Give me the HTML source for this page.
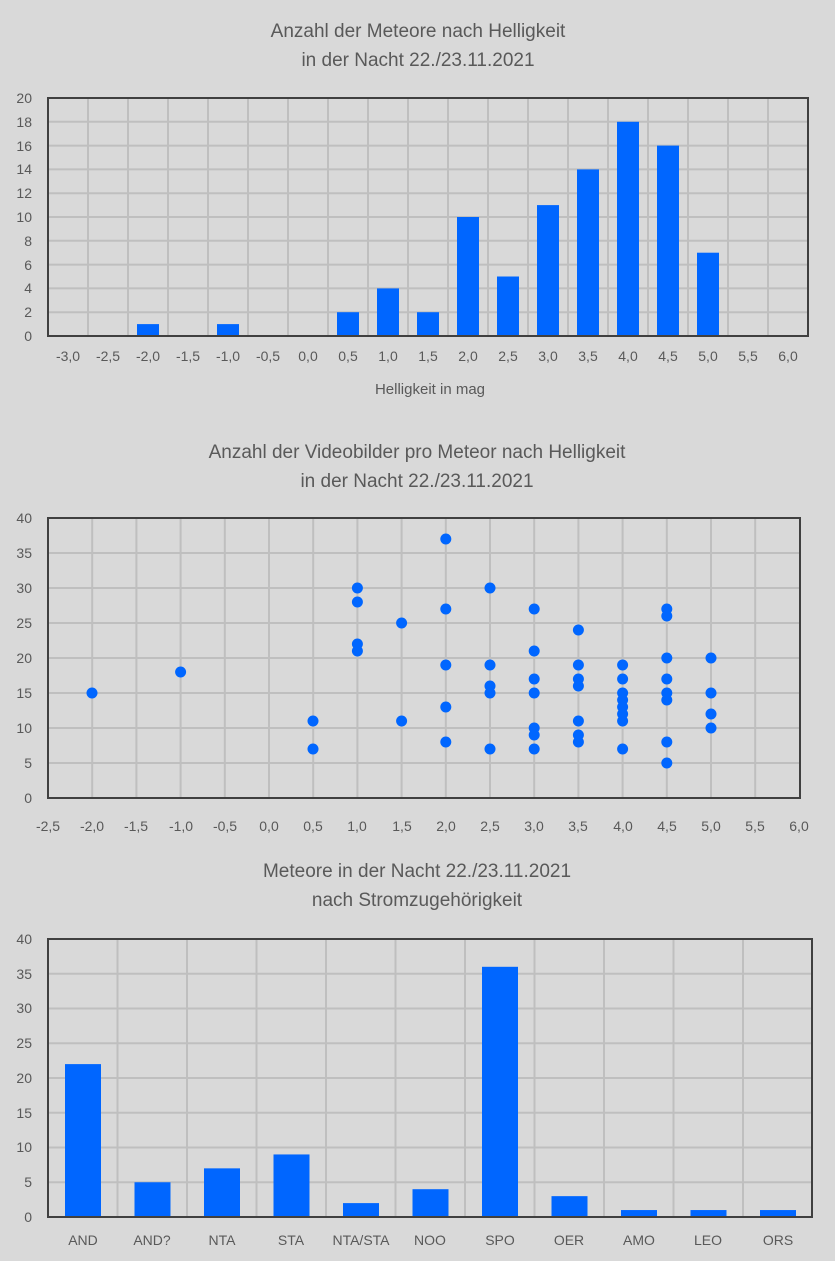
<!DOCTYPE html>
<html><head><meta charset="utf-8"><style>
html,body{margin:0;padding:0;background:#d9d9d9;}
svg{display:block;font-family:"Liberation Sans",sans-serif;}
.t{font-size:19px;fill:#595959;text-anchor:middle;}
.k{font-size:14px;fill:#595959;}
.g{stroke:#bfbfbf;stroke-width:2;}
.b{fill:#0066ff;}
</style></head><body>
<svg width="835" height="1261" viewBox="0 0 835 1261">
<rect width="835" height="1261" fill="#d9d9d9"/>
<!-- Chart 1 -->
<text class="t" x="418" y="37">Anzahl der Meteore nach Helligkeit</text>
<text class="t" x="418" y="66">in der Nacht 22./23.11.2021</text>
<g class="g">
<line x1="48" x2="808" y1="312.2" y2="312.2"/><line x1="48" x2="808" y1="288.4" y2="288.4"/><line x1="48" x2="808" y1="264.6" y2="264.6"/><line x1="48" x2="808" y1="240.8" y2="240.8"/><line x1="48" x2="808" y1="217" y2="217"/><line x1="48" x2="808" y1="193.2" y2="193.2"/><line x1="48" x2="808" y1="169.4" y2="169.4"/><line x1="48" x2="808" y1="145.6" y2="145.6"/><line x1="48" x2="808" y1="121.8" y2="121.8"/>
<line x1="88" x2="88" y1="98" y2="336"/><line x1="128" x2="128" y1="98" y2="336"/><line x1="168" x2="168" y1="98" y2="336"/><line x1="208" x2="208" y1="98" y2="336"/><line x1="248" x2="248" y1="98" y2="336"/><line x1="288" x2="288" y1="98" y2="336"/><line x1="328" x2="328" y1="98" y2="336"/><line x1="368" x2="368" y1="98" y2="336"/><line x1="408" x2="408" y1="98" y2="336"/><line x1="448" x2="448" y1="98" y2="336"/><line x1="488" x2="488" y1="98" y2="336"/><line x1="528" x2="528" y1="98" y2="336"/><line x1="568" x2="568" y1="98" y2="336"/><line x1="608" x2="608" y1="98" y2="336"/><line x1="648" x2="648" y1="98" y2="336"/><line x1="688" x2="688" y1="98" y2="336"/><line x1="728" x2="728" y1="98" y2="336"/><line x1="768" x2="768" y1="98" y2="336"/>
</g>
<g class="b">
<rect x="137" y="324.1" width="22" height="11.9"/><rect x="217" y="324.1" width="22" height="11.9"/>
<rect x="337" y="312.2" width="22" height="23.8"/><rect x="377" y="288.4" width="22" height="47.6"/>
<rect x="417" y="312.2" width="22" height="23.8"/><rect x="457" y="217" width="22" height="119"/>
<rect x="497" y="276.5" width="22" height="59.5"/><rect x="537" y="205.1" width="22" height="130.9"/>
<rect x="577" y="169.4" width="22" height="166.6"/><rect x="617" y="121.8" width="22" height="214.2"/>
<rect x="657" y="145.6" width="22" height="190.4"/><rect x="697" y="252.7" width="22" height="83.3"/>
</g>
<rect x="48" y="98" width="760" height="238" fill="none" stroke="#404040" stroke-width="2"/>
<g class="k" text-anchor="end">
<text x="32" y="341">0</text><text x="32" y="317">2</text><text x="32" y="293">4</text><text x="32" y="270">6</text><text x="32" y="246">8</text><text x="32" y="222">10</text><text x="32" y="198">12</text><text x="32" y="174">14</text><text x="32" y="151">16</text><text x="32" y="127">18</text><text x="32" y="103">20</text>
</g>
<g class="k" text-anchor="middle">
<text x="68" y="361">-3,0</text><text x="108" y="361">-2,5</text><text x="148" y="361">-2,0</text><text x="188" y="361">-1,5</text><text x="228" y="361">-1,0</text><text x="268" y="361">-0,5</text><text x="308" y="361">0,0</text><text x="348" y="361">0,5</text><text x="388" y="361">1,0</text><text x="428" y="361">1,5</text><text x="468" y="361">2,0</text><text x="508" y="361">2,5</text><text x="548" y="361">3,0</text><text x="588" y="361">3,5</text><text x="628" y="361">4,0</text><text x="668" y="361">4,5</text><text x="708" y="361">5,0</text><text x="748" y="361">5,5</text><text x="788" y="361">6,0</text>
<text x="430" y="394" style="font-size:15px">Helligkeit in mag</text>
</g>
<!-- Chart 2 -->
<text class="t" x="417" y="458">Anzahl der Videobilder pro Meteor nach Helligkeit</text>
<text class="t" x="417" y="487">in der Nacht 22./23.11.2021</text>
<g class="g">
<line x1="48" x2="800" y1="763" y2="763"/><line x1="48" x2="800" y1="728" y2="728"/><line x1="48" x2="800" y1="693" y2="693"/><line x1="48" x2="800" y1="658" y2="658"/><line x1="48" x2="800" y1="623" y2="623"/><line x1="48" x2="800" y1="588" y2="588"/><line x1="48" x2="800" y1="553" y2="553"/>
<line x1="92.2" x2="92.2" y1="518" y2="798"/><line x1="136.4" x2="136.4" y1="518" y2="798"/><line x1="180.6" x2="180.6" y1="518" y2="798"/><line x1="224.8" x2="224.8" y1="518" y2="798"/><line x1="269" x2="269" y1="518" y2="798"/><line x1="313.2" x2="313.2" y1="518" y2="798"/><line x1="357.4" x2="357.4" y1="518" y2="798"/><line x1="401.6" x2="401.6" y1="518" y2="798"/><line x1="445.8" x2="445.8" y1="518" y2="798"/><line x1="490" x2="490" y1="518" y2="798"/><line x1="534.2" x2="534.2" y1="518" y2="798"/><line x1="578.4" x2="578.4" y1="518" y2="798"/><line x1="622.6" x2="622.6" y1="518" y2="798"/><line x1="666.8" x2="666.8" y1="518" y2="798"/><line x1="711" x2="711" y1="518" y2="798"/><line x1="755.2" x2="755.2" y1="518" y2="798"/>
</g>
<rect x="48" y="518" width="752" height="280" fill="none" stroke="#404040" stroke-width="2"/>
<g class="b">
<circle cx="92" cy="693" r="5.5"/>
<circle cx="180.6" cy="672" r="5.5"/>
<circle cx="313" cy="721" r="5.5"/><circle cx="313" cy="749" r="5.5"/>
<circle cx="357.4" cy="588" r="5.5"/><circle cx="357.4" cy="602" r="5.5"/><circle cx="357.4" cy="644" r="5.5"/><circle cx="357.4" cy="651" r="5.5"/>
<circle cx="401.6" cy="623" r="5.5"/><circle cx="401.6" cy="721" r="5.5"/>
<circle cx="445.8" cy="539" r="5.5"/><circle cx="445.8" cy="609" r="5.5"/><circle cx="445.8" cy="665" r="5.5"/><circle cx="445.8" cy="707" r="5.5"/><circle cx="445.8" cy="742" r="5.5"/>
<circle cx="490" cy="588" r="5.5"/><circle cx="490" cy="665" r="5.5"/><circle cx="490" cy="686" r="5.5"/><circle cx="490" cy="693" r="5.5"/><circle cx="490" cy="749" r="5.5"/>
<circle cx="534.2" cy="609" r="5.5"/><circle cx="534.2" cy="651" r="5.5"/><circle cx="534.2" cy="679" r="5.5"/><circle cx="534.2" cy="693" r="5.5"/><circle cx="534.2" cy="728" r="5.5"/><circle cx="534.2" cy="735" r="5.5"/><circle cx="534.2" cy="749" r="5.5"/>
<circle cx="578.4" cy="630" r="5.5"/><circle cx="578.4" cy="665" r="5.5"/><circle cx="578.4" cy="679" r="5.5"/><circle cx="578.4" cy="686" r="5.5"/><circle cx="578.4" cy="721" r="5.5"/><circle cx="578.4" cy="735" r="5.5"/><circle cx="578.4" cy="742" r="5.5"/>
<circle cx="622.6" cy="665" r="5.5"/><circle cx="622.6" cy="679" r="5.5"/><circle cx="622.6" cy="693" r="5.5"/><circle cx="622.6" cy="700" r="5.5"/><circle cx="622.6" cy="707" r="5.5"/><circle cx="622.6" cy="714" r="5.5"/><circle cx="622.6" cy="721" r="5.5"/><circle cx="622.6" cy="749" r="5.5"/>
<circle cx="666.8" cy="609" r="5.5"/><circle cx="666.8" cy="616" r="5.5"/><circle cx="666.8" cy="658" r="5.5"/><circle cx="666.8" cy="679" r="5.5"/><circle cx="666.8" cy="693" r="5.5"/><circle cx="666.8" cy="700" r="5.5"/><circle cx="666.8" cy="742" r="5.5"/><circle cx="666.8" cy="763" r="5.5"/>
<circle cx="711" cy="658" r="5.5"/><circle cx="711" cy="693" r="5.5"/><circle cx="711" cy="714" r="5.5"/><circle cx="711" cy="728" r="5.5"/>
</g>
<g class="k" text-anchor="end">
<text x="32" y="803">0</text><text x="32" y="768">5</text><text x="32" y="733">10</text><text x="32" y="698">15</text><text x="32" y="663">20</text><text x="32" y="628">25</text><text x="32" y="593">30</text><text x="32" y="558">35</text><text x="32" y="523">40</text>
</g>
<g class="k" text-anchor="middle">
<text x="48" y="831">-2,5</text><text x="92" y="831">-2,0</text><text x="136" y="831">-1,5</text><text x="181" y="831">-1,0</text><text x="225" y="831">-0,5</text><text x="269" y="831">0,0</text><text x="313" y="831">0,5</text><text x="357" y="831">1,0</text><text x="402" y="831">1,5</text><text x="446" y="831">2,0</text><text x="490" y="831">2,5</text><text x="534" y="831">3,0</text><text x="578" y="831">3,5</text><text x="623" y="831">4,0</text><text x="667" y="831">4,5</text><text x="711" y="831">5,0</text><text x="755" y="831">5,5</text><text x="799" y="831">6,0</text>
</g>
<!-- Chart 3 -->
<text class="t" x="417" y="877">Meteore  in der Nacht 22./23.11.2021</text>
<text class="t" x="417" y="906">nach Stromzugehörigkeit</text>
<g class="g">
<line x1="48" x2="812" y1="1182.25" y2="1182.25"/><line x1="48" x2="812" y1="1147.5" y2="1147.5"/><line x1="48" x2="812" y1="1112.75" y2="1112.75"/><line x1="48" x2="812" y1="1078" y2="1078"/><line x1="48" x2="812" y1="1043.25" y2="1043.25"/><line x1="48" x2="812" y1="1008.5" y2="1008.5"/><line x1="48" x2="812" y1="973.75" y2="973.75"/>
<line x1="117.5" x2="117.5" y1="939" y2="1217"/><line x1="187" x2="187" y1="939" y2="1217"/><line x1="256.5" x2="256.5" y1="939" y2="1217"/><line x1="326" x2="326" y1="939" y2="1217"/><line x1="395.5" x2="395.5" y1="939" y2="1217"/><line x1="465" x2="465" y1="939" y2="1217"/><line x1="534.5" x2="534.5" y1="939" y2="1217"/><line x1="604" x2="604" y1="939" y2="1217"/><line x1="673.5" x2="673.5" y1="939" y2="1217"/><line x1="743" x2="743" y1="939" y2="1217"/>
</g>
<g class="b">
<rect x="65" y="1064.1" width="36" height="152.9"/>
<rect x="134.5" y="1182.25" width="36" height="34.75"/>
<rect x="204" y="1168.35" width="36" height="48.65"/>
<rect x="273.5" y="1154.45" width="36" height="62.55"/>
<rect x="343" y="1203.1" width="36" height="13.9"/>
<rect x="412.5" y="1189.2" width="36" height="27.8"/>
<rect x="482" y="966.8" width="36" height="250.2"/>
<rect x="551.5" y="1196.15" width="36" height="20.85"/>
<rect x="621" y="1210.05" width="36" height="6.95"/>
<rect x="690.5" y="1210.05" width="36" height="6.95"/>
<rect x="760" y="1210.05" width="36" height="6.95"/>
</g>
<rect x="48" y="939" width="764" height="278" fill="none" stroke="#404040" stroke-width="2"/>
<g class="k" text-anchor="end">
<text x="32" y="1222">0</text><text x="32" y="1187">5</text><text x="32" y="1152">10</text><text x="32" y="1118">15</text><text x="32" y="1083">20</text><text x="32" y="1048">25</text><text x="32" y="1013">30</text><text x="32" y="979">35</text><text x="32" y="944">40</text>
</g>
<g class="k" text-anchor="middle">
<text x="83" y="1245">AND</text><text x="152" y="1245">AND?</text><text x="222" y="1245">NTA</text><text x="291" y="1245">STA</text><text x="361" y="1245">NTA/STA</text><text x="430" y="1245">NOO</text><text x="500" y="1245">SPO</text><text x="569" y="1245">OER</text><text x="639" y="1245">AMO</text><text x="708" y="1245">LEO</text><text x="778" y="1245">ORS</text>
</g>
</svg>
</body></html>
